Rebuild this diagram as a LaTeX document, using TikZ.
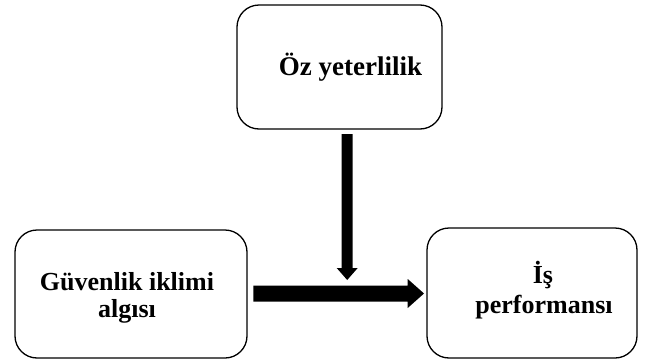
\documentclass[tikz,border=0pt]{standalone}
\usepackage{fontspec}
\setmainfont{Liberation Serif}
\begin{document}
\begin{tikzpicture}[x=1pt,y=-1pt,
  box/.style={draw,line width=1.3pt,rounded corners=22pt},
  lbl/.style={anchor=base,inner sep=0pt,font=\fontsize{26}{28}\selectfont\bfseries},
  blockarrow/.style={fill=black,draw=none}]
\useasboundingbox (0,0) rectangle (649,362);
\node[box,minimum width=205pt,minimum height=124pt] (oz) at (339.5,67) {};
\node[box,minimum width=232pt,minimum height=128pt] (gk) at (131,294) {};
\node[box,minimum width=210pt,minimum height=130pt] (is) at (532,293) {};
\node[lbl,font=\fontsize{27}{28}\selectfont\bfseries] (ozt) at (350.5,75) {Öz yeterlilik};
\node[lbl] (gkt1) at (127,290) {Güvenlik iklimi};
\node[lbl] (gkt2) at (127,317) {algısı};
\node[lbl] (ist1) at (543,283.3) {İş};
\node[lbl] (ist2) at (544,313.3) {performansı};
% vertical block arrow
\fill[blockarrow] (341.7,134) -- (352.7,134) -- (352.7,268) -- (357.7,268) -- (347.2,280)
  -- (336.7,268) -- (341.7,268) -- cycle;
% horizontal block arrow
\fill[blockarrow] (253.3,285.7) -- (407.7,285.7) -- (407.7,279) -- (424,293.5)
  -- (407.7,308) -- (407.7,301.7) -- (253.3,301.7) -- cycle;
\end{tikzpicture}
\end{document}
